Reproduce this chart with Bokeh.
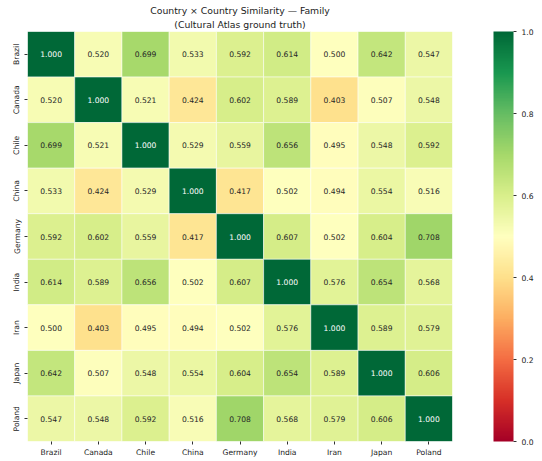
import numpy as np
from bokeh.plotting import figure
from bokeh.models import (ColumnDataSource, LinearColorMapper, ColorBar,
                          FixedTicker, PrintfTickFormatter, Title)
from bokeh.core.properties import value
from bokeh.embed import file_html
from bokeh.resources import INLINE

countries = ["Brazil", "Canada", "Chile", "China", "Germany", "India", "Iran", "Japan", "Poland"]

brazil  = [1.000, 0.520, 0.699, 0.533, 0.592, 0.614, 0.500, 0.642, 0.547]
canada  = [0.520, 1.000, 0.521, 0.424, 0.602, 0.589, 0.403, 0.507, 0.548]
chile   = [0.699, 0.521, 1.000, 0.529, 0.559, 0.656, 0.495, 0.548, 0.592]
china   = [0.533, 0.424, 0.529, 1.000, 0.417, 0.502, 0.494, 0.554, 0.516]
germany = [0.592, 0.602, 0.559, 0.417, 1.000, 0.607, 0.502, 0.604, 0.708]
india   = [0.614, 0.589, 0.656, 0.502, 0.607, 1.000, 0.576, 0.654, 0.568]
iran    = [0.500, 0.403, 0.495, 0.494, 0.502, 0.576, 1.000, 0.589, 0.579]
japan   = [0.642, 0.507, 0.548, 0.554, 0.604, 0.654, 0.589, 1.000, 0.606]
poland  = [0.547, 0.548, 0.592, 0.516, 0.708, 0.568, 0.579, 0.606, 1.000]

rows = [brazil, canada, chile, china, germany, india, iran, japan, poland]

colorbar_ticks = [0.0, 0.2, 0.4, 0.6, 0.8, 1.0]

title_line1 = "Country \u00d7 Country Similarity \u2014 Family"
title_line2 = "(Cultural Atlas ground truth)"

# RdYlGn colormap (red -> yellow -> green)
anchors = ['#a50026', '#d73027', '#f46d43', '#fdae61', '#fee08b', '#ffffbf',
           '#d9ef8b', '#a6d96a', '#66bd63', '#1a9850', '#006837']

def hex2rgb(h):
    return np.array([int(h[i:i + 2], 16) for i in (1, 3, 5)], dtype=float)

anc = np.array([hex2rgb(h) for h in anchors])
pos = np.linspace(0, 1, len(anchors))

def cmap(v):
    return np.array([np.interp(v, pos, anc[:, k]) for k in range(3)])

def to_hex(rgb):
    return "#%02x%02x%02x" % tuple(int(round(c)) for c in rgb)

palette = [to_hex(cmap(t)) for t in np.linspace(0, 1, 256)]

def lum(rgb):
    c = rgb / 255.0
    c = np.where(c <= 0.03928, c / 12.92, ((c + 0.055) / 1.055) ** 2.4)
    return 0.2126 * c[0] + 0.7152 * c[1] + 0.0722 * c[2]

xs, ys, vals, labels, tcols = [], [], [], [], []
for i, r in enumerate(countries):
    for j, c in enumerate(countries):
        v = rows[i][j]
        xs.append(c)
        ys.append(r)
        vals.append(v)
        labels.append("%.3f" % v)
        tcols.append("#262626" if lum(cmap(v)) > 0.408 else "#ffffff")

src = ColumnDataSource(dict(x=xs, y=ys, v=vals, label=labels, tc=tcols))

mapper = LinearColorMapper(palette=palette, low=0.0, high=1.0)

FONT = "DejaVu Sans"

p = figure(x_range=countries, y_range=list(reversed(countries)),
           frame_width=425, frame_height=410,
           output_backend="svg", toolbar_location=None,
           min_border_left=27, min_border_top=31, min_border_bottom=20,
           min_border_right=0, outline_line_color=None)

p.rect(x="x", y="y", width=1, height=1, source=src,
       fill_color={"field": "v", "transform": mapper},
       line_color="white", line_width=0.5)

p.text(x="x", y="y", text="label", source=src, text_color="tc",
       text_align="center", text_baseline="middle",
       text_font=value(FONT), text_font_size="7.6px")

p.title.visible = False
for txt, so in ((title_line2, 3), (title_line1, 0)):
    t = Title(text=txt, align="center", text_font=FONT, text_font_style="normal",
              text_font_size="9.3px", text_color="#222222", standoff=so, offset=0)
    p.add_layout(t, "above")

p.grid.grid_line_color = None
for ax in (p.xaxis, p.yaxis):
    ax.axis_line_color = None
    ax.major_tick_in = 0
    ax.major_tick_out = 3
    ax.major_tick_line_color = "#333333"
    ax.major_label_text_font = FONT
    ax.major_label_text_font_size = "7.6px"
    ax.major_label_text_color = "#222222"
    ax.major_label_standoff = 3
p.yaxis.major_label_orientation = "vertical"

cb = ColorBar(color_mapper=mapper, width=20, height=410,
              ticker=FixedTicker(ticks=colorbar_ticks),
              formatter=PrintfTickFormatter(format="%.1f"),
              major_label_text_font=FONT, major_label_text_font_size="7.6px",
              major_label_text_color="#222222",
              major_tick_in=0, major_tick_out=3, major_tick_line_color="#333333",
              bar_line_color=None, padding=0, margin=0,
              location=(41, 0), background_fill_color=None)
p.add_layout(cb, "right")
p.min_border_right = 88

open("out.html", "w").write(file_html(p, INLINE))
